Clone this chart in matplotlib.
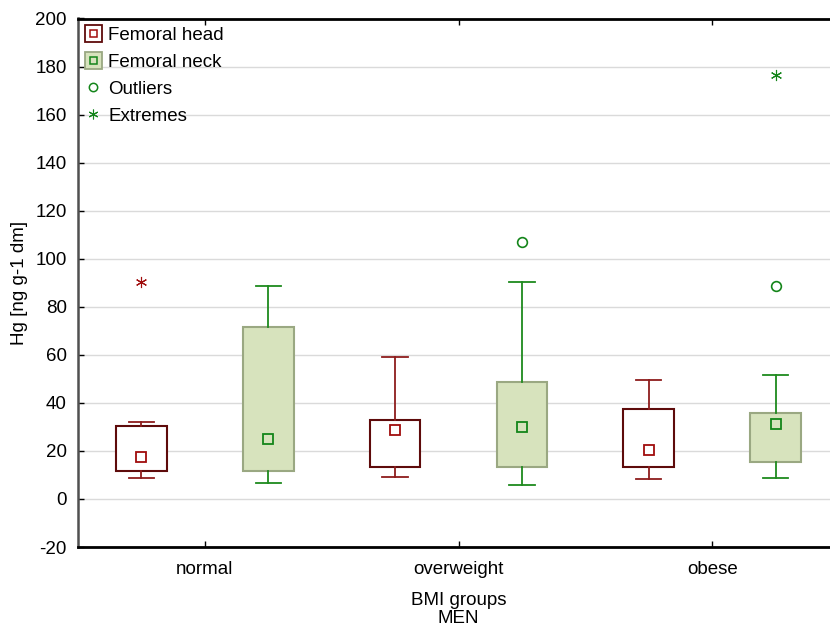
import matplotlib
matplotlib.use("Agg")
import matplotlib.pyplot as plt
from matplotlib.patches import Rectangle
from matplotlib.lines import Line2D
from matplotlib.legend_handler import HandlerBase

plt.rcParams['font.family'] = ['Liberation Sans', 'DejaVu Sans']
plt.rcParams['axes.unicode_minus'] = False

# BMI groups on the x axis
groups = ["normal", "overweight", "obese"]

# Femoral head: box-plot summary per group
head_q1 = [11.5, 13.3, 13.2]
head_q3 = [30.4, 32.8, 37.5]
head_med = [17.6, 28.9, 20.4]
head_lo = [8.8, 9.2, 8.3]
head_hi = [32.0, 58.9, 49.6]
head_outliers = [[], [], []]
head_extremes = [[90.3], [], []]

# Femoral neck: box-plot summary per group
neck_q1 = [11.5, 13.2, 15.4]
neck_q3 = [71.4, 48.6, 35.8]
neck_med = [25.1, 30.0, 31.1]
neck_lo = [6.7, 5.7, 8.9]
neck_hi = [88.5, 90.4, 51.5]
neck_outliers = [[], [107.0], [88.6]]
neck_extremes = [[], [], [176.5]]

yticks = list(range(-20, 201, 20))

HEAD_EDGE = "#5e0b0b"
HEAD_WHISK = "#8e1c1c"
HEAD_MED = "#a00d0d"
NECK_FILL = "#d7e3bd"
NECK_EDGE = "#9aa882"
NECK_WHISK = "#1e8a1e"
NECK_MED = "#14851a"

fig = plt.figure(figsize=(8.3, 6.27), dpi=100)
ax = fig.add_axes([78 / 830, 80 / 627, 761 / 830, 528.5 / 627])

offset = 0.25
width = 0.2


def stats(q1, q3, med, lo, hi):
    return [dict(q1=a, q3=b, med=m, whislo=l, whishi=h, fliers=[])
            for a, b, m, l, h in zip(q1, q3, med, lo, hi)]


pos_head = [i - offset for i in range(len(groups))]
pos_neck = [i + offset for i in range(len(groups))]

ax.bxp(stats(head_q1, head_q3, head_med, head_lo, head_hi), positions=pos_head,
       widths=width, patch_artist=True, showfliers=False,
       boxprops=dict(facecolor="white", edgecolor=HEAD_EDGE, linewidth=1.5),
       whiskerprops=dict(color=HEAD_WHISK, linewidth=1.3),
       capprops=dict(color=HEAD_WHISK, linewidth=1.3),
       medianprops=dict(linewidth=0), capwidths=0.1, zorder=3)
ax.bxp(stats(neck_q1, neck_q3, neck_med, neck_lo, neck_hi), positions=pos_neck,
       widths=width, patch_artist=True, showfliers=False,
       boxprops=dict(facecolor=NECK_FILL, edgecolor=NECK_EDGE, linewidth=1.5),
       whiskerprops=dict(color=NECK_WHISK, linewidth=1.3),
       capprops=dict(color=NECK_WHISK, linewidth=1.3),
       medianprops=dict(linewidth=0), capwidths=0.1, zorder=3)

# median markers
ax.plot(pos_head, head_med, ls="none", marker="s", ms=7, mfc="white",
        mec=HEAD_MED, mew=1.3, zorder=4)
ax.plot(pos_neck, neck_med, ls="none", marker="s", ms=7, mfc=NECK_FILL,
        mec=NECK_MED, mew=1.3, zorder=4)

star = (6, 2, 0)
for p, outs, ext, col in [(pos_head, head_outliers, head_extremes, HEAD_MED),
                          (pos_neck, neck_outliers, neck_extremes, NECK_MED)]:
    for x, o, e in zip(p, outs, ext):
        if o:
            ax.plot([x] * len(o), o, ls="none", marker="o", ms=7, mfc="none",
                    mec=col, mew=1.2, zorder=4)
        if e:
            ax.plot([x] * len(e), e, ls="none", marker=star, ms=8,
                    color=col, mew=0.8, zorder=4)

ax.set_xlim(-0.5, 2.5)
ax.set_ylim(-20, 200)
ax.set_yticks(yticks)
ax.set_xticks(range(len(groups)))
ax.set_xticklabels(groups)
ax.yaxis.grid(True, color="#dadada", linewidth=1.0)
ax.set_axisbelow(True)

ax.tick_params(axis="both", direction="in", length=4, width=1, labelsize=13.5,
               colors="black", top=True)
ax.tick_params(axis="y", pad=8)
ax.tick_params(axis="x", pad=10)
for s in ["top", "bottom"]:
    ax.spines[s].set_linewidth(2)
    ax.spines[s].set_color("black")
ax.spines["left"].set_linewidth(1.8)
ax.spines["left"].set_color("#505050")
ax.spines["right"].set_visible(False)

ax.set_ylabel("Hg [ng g-1 dm]", fontsize=13.5, labelpad=5)
ax.set_xlabel("BMI groups\nMEN", fontsize=13.5, labelpad=10, linespacing=1.1)


class BoxHandler(HandlerBase):
    def __init__(self, fill, edge, inner_edge, inner_fill):
        super().__init__()
        self.fill, self.edge = fill, edge
        self.inner_edge, self.inner_fill = inner_edge, inner_fill

    def create_artists(self, legend, orig_handle, xdescent, ydescent, width,
                       height, fontsize, trans):
        s = 12
        cx = width / 2 - xdescent
        cy = height / 2 - ydescent
        outer = Rectangle((cx - s / 2, cy - s / 2), s, s, facecolor=self.fill,
                          edgecolor=self.edge, linewidth=1.3, transform=trans)
        si = 5.5
        inner = Rectangle((cx - si / 2, cy - si / 2), si, si,
                          facecolor=self.inner_fill, edgecolor=self.inner_edge,
                          linewidth=1.1, transform=trans)
        return [outer, inner]


h_head = Rectangle((0, 0), 1, 1)
h_neck = Rectangle((0, 0), 1, 1)
h_out = Line2D([], [], ls="none", marker="o", ms=6, mfc="none", mec=NECK_MED, mew=1.1)
h_ext = Line2D([], [], ls="none", marker=star, ms=7, color=NECK_MED, mew=0.8)

leg = ax.legend([h_head, h_neck, h_out, h_ext],
                ["Femoral head", "Femoral neck", "Outliers", "Extremes"],
                handler_map={h_head: BoxHandler("white", HEAD_EDGE, HEAD_MED, "white"),
                             h_neck: BoxHandler(NECK_FILL, NECK_EDGE, NECK_MED, NECK_FILL)},
                loc="upper left", bbox_to_anchor=(0.0, 1.0), frameon=False,
                fontsize=13.5, handlelength=0.75, handletextpad=0.4,
                labelspacing=0.52, borderaxespad=0.25, borderpad=0.2)

fig.savefig("out.png", dpi=100)
